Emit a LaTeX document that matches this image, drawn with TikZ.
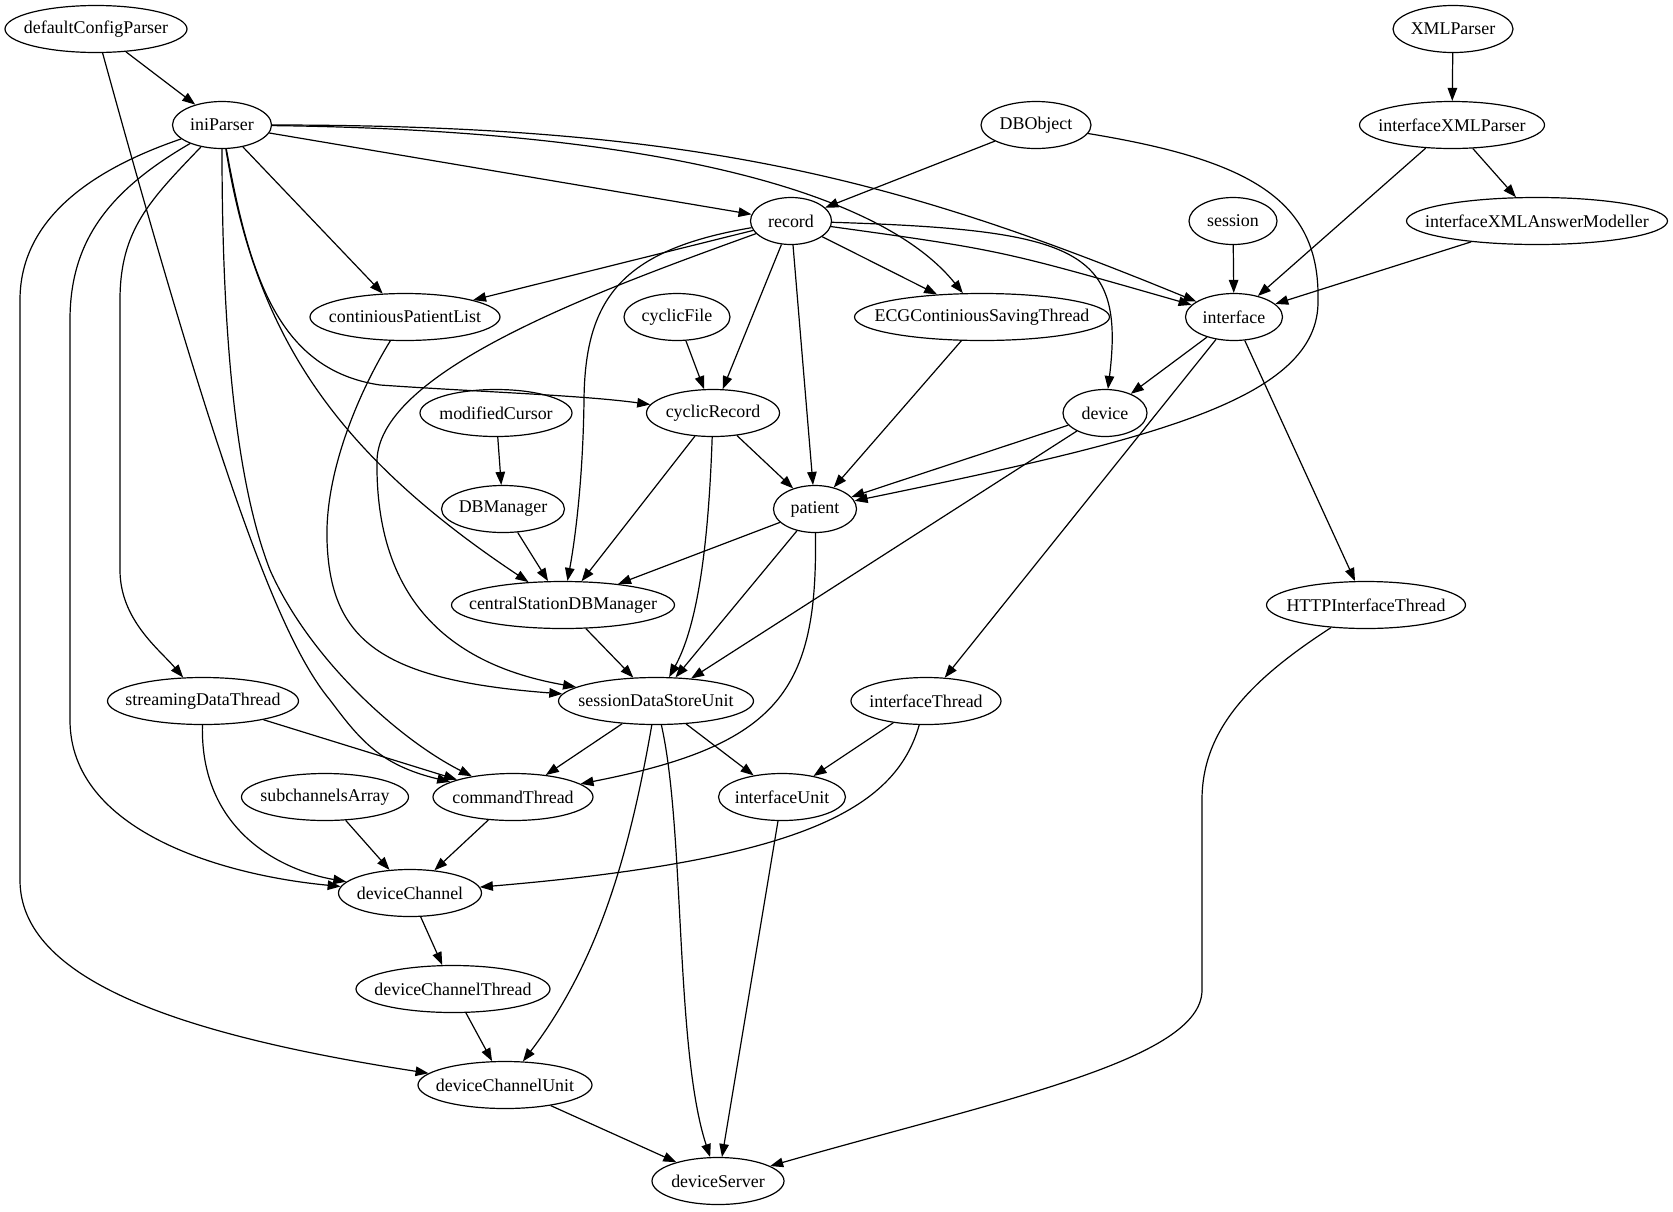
\documentclass[tikz,border=0pt]{standalone}
\usepackage{fontspec}
\setmainfont{Liberation Serif}
\usetikzlibrary{arrows.meta, shapes.geometric}

\begin{document}
\begin{tikzpicture}[x=1pt, y=-1pt,
				gnode/.style={draw, ellipse, line width=1.2pt, inner sep=0pt,
					minimum height=47pt, minimum width=#1,
					font=\fontsize{17.9}{21}\selectfont,
					execute at begin node={\hbox to 0pt\bgroup\hss},
					execute at end node={\hss\egroup}},
				arr/.style={-{Triangle[length=13pt, width=9.5pt]}, line width=1.2pt}
				]
				\useasboundingbox (0,0) rectangle (1673,1211);
				\node[gnode=182pt] (dcp) at (96,29) {defaultConfigParser};
				\node[gnode=120pt] (xmlp) at (1453,29) {XMLParser};
				\node[gnode=99pt] (ini) at (222,125) {iniParser};
				\node[gnode=110pt] (dbo) at (1036,125) {DBObject};
				\node[gnode=185pt] (ixp) at (1452,125) {interfaceXMLParser};
				\node[gnode=81pt] (rec) at (791,221) {record};
				\node[gnode=88pt] (ses) at (1233,221) {session};
				\node[gnode=261pt] (ixam) at (1537,221) {interfaceXMLAnswerModeller};
				\node[gnode=190pt] (cpl) at (405,317) {continiousPatientList};
				\node[gnode=106pt] (cfile) at (677,317) {cyclicFile};
				\node[gnode=255pt] (ecg) at (982,317) {ECGContiniousSavingThread};
				\node[gnode=97pt] (iface) at (1234,317) {interface};
				\node[gnode=152pt] (mcur) at (496,413) {modifiedCursor};
				\node[gnode=133pt] (crec) at (713,413) {cyclicRecord};
				\node[gnode=84pt] (dev) at (1105,413) {device};
				\node[gnode=123pt] (dbm) at (503,509) {DBManager};
				\node[gnode=83pt] (pat) at (815,509) {patient};
				\node[gnode=223pt] (csdb) at (563,605) {centralStationDBManager};
				\node[gnode=199pt] (http) at (1366,605) {HTTPInterfaceThread};
				\node[gnode=191pt] (sdt) at (203,701) {streamingDataThread};
				\node[gnode=195pt] (sdsu) at (656,701) {sessionDataStoreUnit};
				\node[gnode=150pt] (ithr) at (926,701) {interfaceThread};
				\node[gnode=167pt] (sca) at (325,797) {subchannelsArray};
				\node[gnode=160pt] (cmd) at (513,797) {commandThread};
				\node[gnode=127pt] (iunit) at (782,797) {interfaceUnit};
				\node[gnode=143pt] (dch) at (410,893) {deviceChannel};
				\node[gnode=194pt] (dcht) at (453,989) {deviceChannelThread};
				\node[gnode=174pt] (dchu) at (505,1085) {deviceChannelUnit};
				\node[gnode=132pt] (dsrv) at (718,1181) {deviceServer};
				\draw[arr] (dcp) -- (ini);
				\draw[arr] (dcp) .. controls (220,480) and (280,640) .. (330,700) .. controls (360,740) and (380,765) .. (cmd);
				\draw[arr] (xmlp) -- (ixp);
				\draw[arr] (ixp) -- (ixam);
				\draw[arr] (ixp) -- (iface);
				\draw[arr] (ixam) -- (iface);
				\draw[arr] (ses) -- (iface);
				\draw[arr] (dbo) -- (rec);
				\draw[arr] (dbo) .. controls (1250,160) and (1320,200) .. (1318,300) .. controls (1320,400) and (1150,440) .. (pat);
				\draw[arr] (ini) -- (rec);
				\draw[arr] (ini) .. controls (700,125) and (900,180) .. (iface);
				\draw[arr] (ini) .. controls (650,130) and (880,190) .. (ecg);
				\draw[arr] (ini) -- (cpl);
				\draw[arr] (ini) .. controls (250,280) and (280,370) .. (380,385) .. controls (480,392) and (580,395) .. (crec);
				\draw[arr] (ini) .. controls (255,330) and (330,450) .. (csdb);
				\draw[arr] (ini) .. controls (222,330) and (235,480) .. (270,570) .. controls (310,660) and (400,740) .. (cmd);
				\draw[arr] (ini) .. controls (150,200) and (120,230) .. (120,300) -- (120,570) .. controls (120,620) and (160,650) .. (sdt);
				\draw[arr] (ini) .. controls (110,190) and (70,240) .. (70,320) -- (70,720) .. controls (70,830) and (220,875) .. (dch);
				\draw[arr] (ini) .. controls (90,170) and (20,220) .. (20,300) -- (20,880) .. controls (20,980) and (180,1035) .. (dchu);
				\draw[arr] (rec) -- (cpl);
				\draw[arr] (rec) -- (ecg);
				\draw[arr] (rec) -- (crec);
				\draw[arr] (rec) -- (pat);
				\draw[arr] (rec) .. controls (1000,250) .. (iface);
				\draw[arr] (rec) .. controls (1080,230) and (1125,250) .. (dev);
				\draw[arr] (rec) .. controls (620,250) and (585,300) .. (584,400) .. controls (583,480) and (575,540) .. (csdb);
				\draw[arr] (rec) .. controls (600,290) and (380,370) .. (377,460) .. controls (375,600) and (450,665) .. (sdsu);
				\draw[arr] (cpl) .. controls (360,390) and (325,470) .. (327,540) .. controls (330,640) and (380,680) .. (sdsu);
				\draw[arr] (cfile) -- (crec);
				\draw[arr] (ecg) -- (pat);
				\draw[arr] (iface) -- (dev);
				\draw[arr] (iface) -- (ithr);
				\draw[arr] (iface) -- (http);
				\draw[arr] (mcur) -- (dbm);
				\draw[arr] (crec) -- (pat);
				\draw[arr] (crec) -- (csdb);
				\draw[arr] (crec) .. controls (708,560) and (695,630) .. (sdsu);
				\draw[arr] (dev) -- (pat);
				\draw[arr] (dev) -- (sdsu);
				\draw[arr] (dbm) -- (csdb);
				\draw[arr] (pat) -- (csdb);
				\draw[arr] (pat) -- (sdsu);
				\draw[arr] (pat) .. controls (818,690) and (780,745) .. (cmd);
				\draw[arr] (csdb) -- (sdsu);
				\draw[arr] (http) .. controls (1250,680) and (1202,730) .. (1202,800) -- (1202,990) .. controls (1202,1060) and (1000,1100) .. (dsrv);
				\draw[arr] (sdt) -- (cmd);
				\draw[arr] (sdt) .. controls (200,830) and (280,870) .. (dch);
				\draw[arr] (sdsu) -- (cmd);
				\draw[arr] (sdsu) -- (iunit);
				\draw[arr] (sdsu) .. controls (630,850) and (600,960) .. (dchu);
				\draw[arr] (sdsu) .. controls (685,830) and (675,1050) .. (dsrv);
				\draw[arr] (ithr) -- (iunit);
				\draw[arr] (ithr) .. controls (895,810) and (800,860) .. (dch);
				\draw[arr] (sca) -- (dch);
				\draw[arr] (cmd) -- (dch);
				\draw[arr] (iunit) -- (dsrv);
				\draw[arr] (dch) -- (dcht);
				\draw[arr] (dcht) -- (dchu);
				\draw[arr] (dchu) -- (dsrv);
			\end{tikzpicture}
\end{document}
